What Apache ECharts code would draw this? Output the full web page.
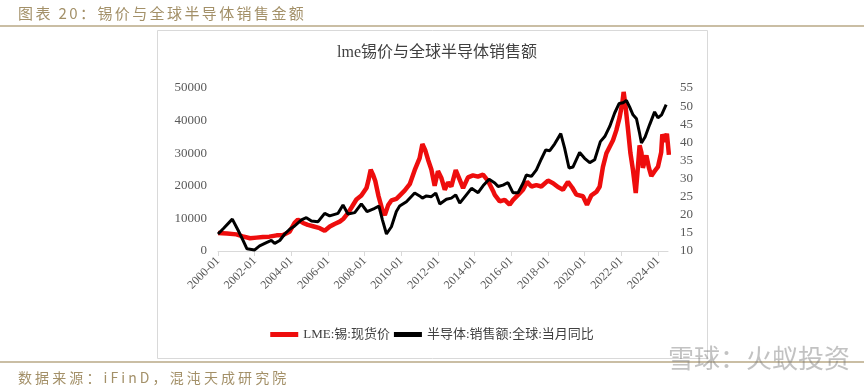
<!DOCTYPE html>
<html><head><meta charset="utf-8">
<script src="https://cdn.jsdelivr.net/npm/echarts@6/dist/echarts.min.js"></script>
<style>html,body{margin:0;padding:0;background:#fff}#c{width:864px;height:392px}</style>
</head><body><div id="c"></div>
<script>
// ---- data ----
const headerTitle = '图表 20：锡价与全球半导体销售金额';
const chartTitle = 'lme锡价与全球半导体销售额';
const sourceText = '数据来源：iFinD，混沌天成研究院';
const watermark = '雪球：火蚁投资';
const seriesNames = ['LME:锡:现货价', '半导体:销售额:全球:当月同比'];
const xTickYears = [2000, 2002, 2004, 2006, 2008, 2010, 2012, 2014, 2016, 2018, 2020, 2022, 2024];
const leftTicks = [0, 10000, 20000, 30000, 40000, 50000];
const rightTicks = [10, 15, 20, 25, 30, 35, 40, 45, 50, 55];

const tinDates = [2000.0,2000.5,2001.0,2001.35,2001.75,2002.1,2002.45,2002.8,2003.2,2003.55,2003.9,2004.18,2004.36,2004.64,2004.9,2005.18,2005.55,2005.82,2006.1,2006.36,2006.64,2006.85,2007.1,2007.3,2007.55,2007.82,2008.1,2008.2,2008.33,2008.45,2008.58,2008.75,2008.97,2009.1,2009.28,2009.46,2009.73,2009.91,2010.18,2010.46,2010.73,2011.0,2011.15,2011.3,2011.46,2011.64,2011.82,2012.0,2012.18,2012.37,2012.55,2012.73,2012.97,2013.19,2013.37,2013.64,2013.91,2014.18,2014.46,2014.73,2015.0,2015.1,2015.37,2015.64,2015.91,2016.09,2016.37,2016.64,2016.86,2017.1,2017.37,2017.64,2018.0,2018.28,2018.55,2018.82,2019.09,2019.33,2019.55,2019.91,2020.13,2020.37,2020.64,2020.82,2021.0,2021.19,2021.37,2021.55,2021.73,2021.91,2022.06,2022.13,2022.24,2022.37,2022.5,2022.64,2022.79,2022.91,2023.0,2023.1,2023.18,2023.37,2023.51,2023.64,2023.82,2024.0,2024.18,2024.24,2024.37,2024.49,2024.6];
const tinPrices = [5500,5400,5100,4500,3900,4100,4300,4400,4800,4900,5900,8600,9600,8600,8000,7600,7000,6200,7500,8300,9000,9900,11700,13500,15800,17000,19300,21500,24900,23500,21500,17000,12500,11000,14000,15500,16000,17000,18500,20500,24800,28500,32800,31000,28000,25000,20000,24500,22500,18800,21000,19800,24800,21800,19300,22600,23200,22800,23400,21500,18500,17200,15200,15700,14200,15600,17200,18800,21200,19800,20200,19800,21600,20800,19600,18800,21200,19400,17300,16800,14200,17100,18100,19700,25800,30000,32000,34000,37000,41000,45500,48800,44000,37200,30000,24800,17800,25800,32400,30200,25500,29300,25500,23000,24500,25800,30300,35800,33500,36000,29500];

const semiDates = [2000.0,2000.31,2000.78,2001.09,2001.36,2001.58,2002.0,2002.27,2002.64,2002.91,2003.09,2003.37,2003.64,2003.91,2004.18,2004.55,2004.82,2005.1,2005.46,2005.82,2006.09,2006.55,2006.82,2007.09,2007.46,2007.82,2008.13,2008.55,2008.78,2008.97,2009.19,2009.46,2009.73,2009.91,2010.28,2010.73,2011.0,2011.15,2011.37,2011.64,2011.88,2012.1,2012.46,2012.73,2012.97,2013.19,2013.55,2013.83,2014.19,2014.46,2014.79,2015.1,2015.28,2015.55,2015.82,2016.09,2016.37,2016.64,2016.82,2017.1,2017.37,2017.64,2017.88,2018.1,2018.37,2018.7,2018.91,2019.15,2019.37,2019.73,2020.0,2020.28,2020.55,2020.86,2021.1,2021.37,2021.64,2021.88,2022.1,2022.28,2022.46,2022.64,2022.83,2023.0,2023.1,2023.3,2023.55,2023.82,2024.0,2024.2,2024.45];
const semiSales = [14.7,16.3,18.8,15.8,13.0,10.6,10.3,11.4,12.3,12.9,12.1,12.9,14.7,16.0,16.9,18.6,19.2,18.3,18.1,20.4,19.7,20.4,22.7,20.2,20.6,23.0,20.9,21.8,22.4,18.6,14.7,16.7,20.9,22.4,23.6,26.0,25.2,24.6,25.2,25.0,26.0,23.0,24.3,24.6,25.5,23.2,25.5,27.3,26.1,28.0,29.8,28.8,27.8,28.2,28.9,26.1,26.1,28.7,31.0,30.6,32.4,35.4,37.9,37.7,39.6,42.4,38.4,32.9,33.2,37.2,35.6,34.4,35.2,40.2,41.6,44.4,48.1,50.7,50.9,51.6,49.7,47.6,46.5,42.5,39.8,41.5,44.9,48.4,46.8,47.6,50.4];

// ---- helpers ----
const serif = '"Liberation Serif","DejaVu Serif","Noto Sans CJK SC",serif';
const brown = '#a39068';
const measureCtx = document.createElement('canvas').getContext('2d');
// spaced text: one text element per glyph so that letter spacing is honoured
function spacedText(str, x, y, font, fill, spacing) {
  measureCtx.font = font;
  const out = [];
  let cx = x;
  for (const ch of Array.from(str)) {
    out.push({type: 'text', x: cx, y: y, silent: true, style: {text: ch, font: font, fill: fill, textVerticalAlign: 'top'}});
    cx += measureCtx.measureText(ch).width + spacing;
  }
  return out;
}

const chart = echarts.init(document.getElementById('c'), null, {renderer: 'canvas'});
chart.setOption({
  animation: false,
  backgroundColor: '#fff',
  title: {
    text: chartTitle, left: 432, top: 40, textAlign: 'center',
    textStyle: {fontFamily: serif, fontSize: 16, fontWeight: 'normal', color: '#404040'}
  },
  graphic: [
    ...spacedText(headerTitle, 18, 6, '15px "Noto Sans CJK SC"', brown, 2.4),
    {type: 'line', shape: {x1: 0, y1: 26, x2: 864, y2: 26}, style: {stroke: '#b8a986', lineWidth: 1.5}},
    {type: 'rect', shape: {x: 157.5, y: 30.5, width: 550, height: 328}, style: {fill: 'none', stroke: '#d9d9d9', lineWidth: 1}},
    {type: 'line', shape: {x1: 0, y1: 362, x2: 864, y2: 362}, style: {stroke: '#b8a986', lineWidth: 1.5}},
    ...spacedText(sourceText, 18, 371, '14px "Noto Sans CJK SC"', brown, 3.1),
    {type: 'text', left: 668, top: 345, style: {text: watermark, fill: 'rgba(120,120,120,0.45)', font: '26px "Noto Sans CJK SC"'}}
  ],
  legend: {
    bottom: 46, left: 'center',
    itemWidth: 28, itemHeight: 5, itemGap: 4,
    icon: 'rect',
    textStyle: {fontFamily: serif, fontSize: 13, color: '#404040'},
    data: seriesNames
  },
  grid: {left: 218, right: 196, top: 88, bottom: 141},
  xAxis: {
    type: 'value', min: 2000, max: 2024.55,
    axisLine: {show: true, lineStyle: {color: '#d9d9d9'}},
    axisTick: {show: true, length: 5, lineStyle: {color: '#d9d9d9'}, customValues: xTickYears},
    axisLabel: {
      customValues: xTickYears, rotate: 45, margin: 8,
      formatter: v => Math.round(v) + '-01',
      fontFamily: serif, fontSize: 12, color: '#595959'
    },
    splitLine: {show: false}
  },
  yAxis: [
    {type: 'value', min: 0, max: 50000, interval: 10000, position: 'left',
     axisLine: {show: false}, axisTick: {show: false}, splitLine: {show: false},
     axisLabel: {margin: 11, formatter: v => String(v), fontFamily: serif, fontSize: 13, color: '#595959'}},
    {type: 'value', min: 10, max: 55, interval: 5, position: 'right',
     axisLine: {show: false}, axisTick: {show: false}, splitLine: {show: false},
     axisLabel: {margin: 12, formatter: v => String(v), fontFamily: serif, fontSize: 13, color: '#595959'}}
  ],
  series: [
    {name: seriesNames[0], type: 'line', yAxisIndex: 0, symbol: 'none', smooth: false,
     color: '#ee0d0d', lineStyle: {width: 4.5, color: '#ee0d0d'},
     data: tinDates.map((d, i) => [d, tinPrices[i]])},
    {name: seriesNames[1], type: 'line', yAxisIndex: 1, symbol: 'none', smooth: false,
     color: '#000', lineStyle: {width: 3, color: '#000'},
     data: semiDates.map((d, i) => [d, semiSales[i]])}
  ]
});
</script></body></html>
